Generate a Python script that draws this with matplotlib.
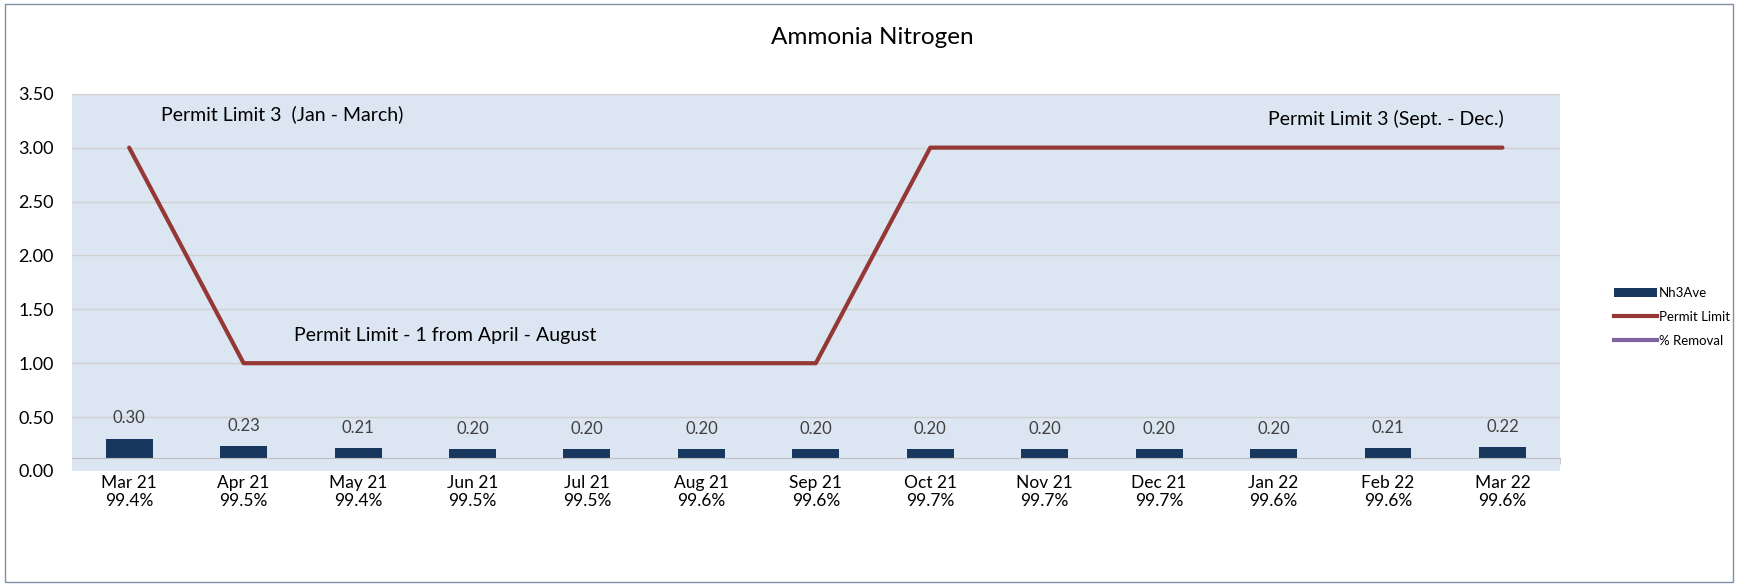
import matplotlib.pyplot as plt
from matplotlib.lines import Line2D
from matplotlib.patches import Patch, Rectangle

# dados
meses = ['Mar 21', 'Apr 21', 'May 21', 'Jun 21', 'Jul 21', 'Aug 21', 'Sep 21',
         'Oct 21', 'Nov 21', 'Dec 21', 'Jan 22', 'Feb 22', 'Mar 22']
nh3_ave = [0.30, 0.23, 0.21, 0.20, 0.20, 0.20, 0.20, 0.20, 0.20, 0.20, 0.20, 0.21, 0.22]
permit_limit = [3, 1, 1, 1, 1, 1, 1, 3, 3, 3, 3, 3, 3]
remocao = ['99.4%', '99.5%', '99.4%', '99.5%', '99.5%', '99.6%', '99.6%',
           '99.7%', '99.7%', '99.7%', '99.6%', '99.6%', '99.6%']

cor_barra = '#17375E'
cor_limite = '#953735'
cor_remocao = '#8064A2'
cor_fundo = '#DCE6F2'
cor_texto = '#404040'

# no Excel o eixo de categorias fica um pouco acima do zero
base_eixo = 0.12

plt.rcParams['font.family'] = ['Lato', 'DejaVu Sans']

fig = plt.figure(figsize=(17.38, 5.84), dpi=100)
ax = fig.add_axes([0.0414, 0.1935, 0.856, 0.646])
ax.set_facecolor(cor_fundo)

# posicao do eixo antes dos ticks (set_position reinicia os ticks)
for lado in ['top', 'right', 'left']:
    ax.spines[lado].set_visible(False)
ax.spines['bottom'].set_position(('data', base_eixo))
ax.spines['bottom'].set_color('#BFBFBF')
ax.spines['bottom'].set_zorder(3.6)

x = list(range(len(meses)))
ax.bar(x, nh3_ave, width=0.41, color=cor_barra, zorder=3)
ax.axhspan(0, base_eixo, color=cor_fundo, zorder=3.5, linewidth=0)
ax.plot(x, permit_limit, color=cor_limite, linewidth=3, solid_capstyle='round', zorder=4)

for xi, v in zip(x, nh3_ave):
    ax.text(xi, v + 0.19, f'{v:.2f}', ha='center', va='center', fontsize=12, color=cor_texto)

ax.set_xlim(-0.5, 12.5)
ax.set_ylim(0, 3.5)
ax.set_yticks([0, 0.5, 1, 1.5, 2, 2.5, 3, 3.5])
ax.set_yticklabels([f'{t:.2f}' for t in ax.get_yticks()])
ax.grid(axis='y', color='#D0D0D0', linewidth=1, zorder=0)
ax.set_axisbelow(True)

ax.set_xticks(x)
ax.set_xticklabels([f'{m}\n{r}' for m, r in zip(meses, remocao)], linespacing=1.2)
ax.set_xticks([i - 0.5 for i in range(len(meses) + 1)], minor=True)
ax.tick_params(axis='x', which='major', length=0, pad=12, labelsize=12.5, labelcolor='black')
ax.tick_params(axis='x', which='minor', length=4, color='#BFBFBF', direction='out')
ax.tick_params(axis='y', length=0, pad=13, labelsize=13, labelcolor='black')

ax.text(0.28, 3.31, 'Permit Limit 3  (Jan - March)', fontsize=14, ha='left', va='center')
ax.text(1.44, 1.26, 'Permit Limit - 1 from April - August', fontsize=14, ha='left', va='center')
ax.text(9.95, 3.27, 'Permit Limit 3 (Sept. - Dec.)', fontsize=14, ha='left', va='center')

fig.text(0.502, 0.936, 'Ammonia Nitrogen', ha='center', va='center', fontsize=17.5)

handles = [Patch(facecolor=cor_barra, edgecolor='none'),
           Line2D([], [], color=cor_limite, linewidth=3),
           Line2D([], [], color=cor_remocao, linewidth=3)]
fig.legend(handles, ['Nh3Ave', 'Permit Limit', '% Removal'], loc='center left',
           bbox_to_anchor=(0.922, 0.457), frameon=False, fontsize=9.5,
           handlelength=3.2, handletextpad=0.2, labelspacing=0.9)

fig.patches.append(Rectangle((0.003, 0.004), 0.994, 0.99, transform=fig.transFigure,
                             fill=False, edgecolor='#7F8FA6', linewidth=1))

fig.savefig('out.png', dpi=100)
